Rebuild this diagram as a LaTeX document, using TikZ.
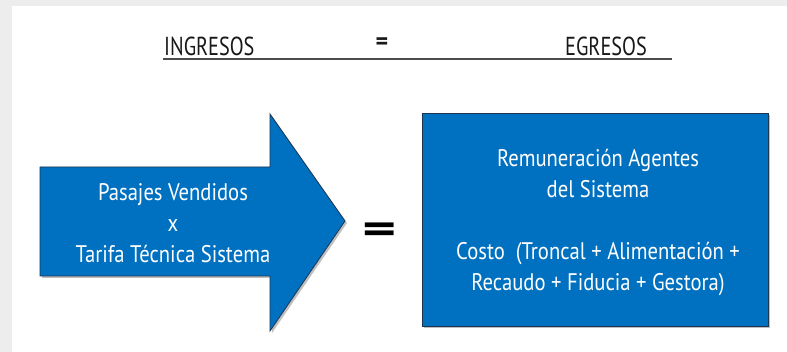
\documentclass[tikz,border=0pt]{standalone}
\usepackage{fontspec}
\setmainfont{PT Sans}
\newfontfamily\narrowfont[FakeStretch=0.86]{PT Sans}
\newfontfamily\headfont[FakeStretch=0.78]{PT Sans}
\definecolor{tblue}{HTML}{0070C0}
\definecolor{tedge}{HTML}{1B3552}
\tikzset{
    boxtext/.style={text=white, align=center, inner sep=0pt, font=\narrowfont\fontsize{24}{31}\selectfont},
    headtext/.style={text=black!90, inner sep=0pt, anchor=base, font=\headfont\fontsize{26}{30}\selectfont},
}
\begin{document}
\begin{tikzpicture}[x=1pt, y=-1pt]
    % frame
    \useasboundingbox (0,0) rectangle (787,352);
    \fill[black!7] (0,0) rectangle (787,352);
    \fill[white] (12,6) rectangle (787,352);

    % header: INGRESOS = EGRESOS
    \node[headtext, anchor=base west] (ing) at (164,56) {INGRESOS};
    \node[headtext, font=\bfseries\fontsize{24}{24}\selectfont, anchor=center] (eqtop) at (382,44) {=};
    \node[headtext, anchor=base east] (egr) at (647,56) {EGRESOS};
    \coordinate (ul1) at (163,59);
    \coordinate (ul2) at (672,59);
    \draw[black!70, line width=2.6pt] (ul1) -- (ul2);

    % left: arrow
    \fill[black!25] (42,169) -- (272,169) -- (272,116) -- (347,223)
        -- (272,333) -- (272,278) -- (42,278) -- cycle;
    \filldraw[fill=tblue, draw=tedge, line width=0.8pt] (40,167) -- (270,167) -- (270,114)
        -- (345,221) -- (270,331) -- (270,276) -- (40,276) -- cycle;
    \node[boxtext] (pas) at (173,223) {Pasajes Vendidos\\x\\Tarifa Técnica Sistema};

    % middle
    \node[inner sep=0pt, font=\bfseries\fontsize{42}{42}\selectfont, transform shape, xscale=1.55] (eq) at (380,233) {=};

    % right: box
    \fill[black!25] (424,115) rectangle (770,328);
    \filldraw[fill=tblue, draw=tedge, line width=0.8pt] (422,113) rectangle (768,326);
    \node[boxtext] (rem) at (598,223) {Remuneración Agentes\\del Sistema\\[31pt]Costo~ (Troncal + Alimentación +\\Recaudo + Fiducia + Gestora)};
\end{tikzpicture}
\end{document}
